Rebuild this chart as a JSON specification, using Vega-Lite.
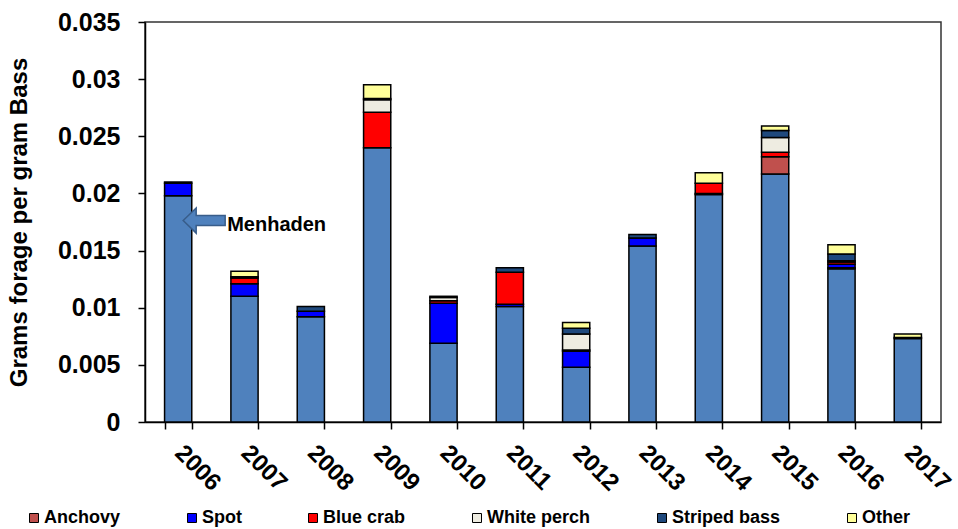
{
  "$schema": "https://vega.github.io/schema/vega-lite/v6.json",
  "autosize": {"type": "none"},
  "width": 796,
  "height": 400,
  "padding": {"left": 145, "top": 22, "right": 17, "bottom": 107},
  "background": "white",
  "config": {
    "font": "Liberation Sans",
    "view": {"stroke": "#333333", "strokeWidth": 1.5},
    "axis": {"domainColor": "#000000", "domainWidth": 1.5, "tickColor": "#000000", "tickWidth": 1.5, "grid": false, "labelColor": "#000000", "titleColor": "#000000", "labelFont": "Liberation Sans", "titleFont": "Liberation Sans", "labelFontWeight": "bold", "titleFontWeight": "bold"}
  },
  "datasets": {
    "forage": [
      {"year": "2006", "species": "Menhaden", "value": 0.0198},
      {"year": "2006", "species": "Spot", "value": 0.0011},
      {"year": "2006", "species": "Striped bass", "value": 0.0001},
      {"year": "2007", "species": "Menhaden", "value": 0.0110},
      {"year": "2007", "species": "Spot", "value": 0.0011},
      {"year": "2007", "species": "Blue crab", "value": 0.0005},
      {"year": "2007", "species": "Striped bass", "value": 0.0001},
      {"year": "2007", "species": "Other", "value": 0.0005},
      {"year": "2008", "species": "Menhaden", "value": 0.0092},
      {"year": "2008", "species": "Spot", "value": 0.0005},
      {"year": "2008", "species": "Striped bass", "value": 0.0004},
      {"year": "2009", "species": "Menhaden", "value": 0.0240},
      {"year": "2009", "species": "Blue crab", "value": 0.0031},
      {"year": "2009", "species": "White perch", "value": 0.0011},
      {"year": "2009", "species": "Striped bass", "value": 0.0001},
      {"year": "2009", "species": "Other", "value": 0.0012},
      {"year": "2010", "species": "Menhaden", "value": 0.0069},
      {"year": "2010", "species": "Spot", "value": 0.0035},
      {"year": "2010", "species": "Blue crab", "value": 0.0002},
      {"year": "2010", "species": "White perch", "value": 0.0003},
      {"year": "2010", "species": "Striped bass", "value": 0.0001},
      {"year": "2011", "species": "Menhaden", "value": 0.0101},
      {"year": "2011", "species": "Spot", "value": 0.0002},
      {"year": "2011", "species": "Blue crab", "value": 0.0028},
      {"year": "2011", "species": "Striped bass", "value": 0.0004},
      {"year": "2012", "species": "Menhaden", "value": 0.0048},
      {"year": "2012", "species": "Spot", "value": 0.0014},
      {"year": "2012", "species": "Blue crab", "value": 0.0001},
      {"year": "2012", "species": "White perch", "value": 0.0014},
      {"year": "2012", "species": "Striped bass", "value": 0.0005},
      {"year": "2012", "species": "Other", "value": 0.0005},
      {"year": "2013", "species": "Menhaden", "value": 0.0154},
      {"year": "2013", "species": "Spot", "value": 0.0007},
      {"year": "2013", "species": "Striped bass", "value": 0.0003},
      {"year": "2014", "species": "Menhaden", "value": 0.0199},
      {"year": "2014", "species": "Spot", "value": 0.0001},
      {"year": "2014", "species": "Blue crab", "value": 0.0009},
      {"year": "2014", "species": "Other", "value": 0.0009},
      {"year": "2015", "species": "Menhaden", "value": 0.0217},
      {"year": "2015", "species": "Anchovy", "value": 0.0015},
      {"year": "2015", "species": "Blue crab", "value": 0.0004},
      {"year": "2015", "species": "White perch", "value": 0.0013},
      {"year": "2015", "species": "Striped bass", "value": 0.0006},
      {"year": "2015", "species": "Other", "value": 0.0004},
      {"year": "2016", "species": "Menhaden", "value": 0.0134},
      {"year": "2016", "species": "Anchovy", "value": 0.0001},
      {"year": "2016", "species": "Spot", "value": 0.0003},
      {"year": "2016", "species": "Blue crab", "value": 0.0002},
      {"year": "2016", "species": "White perch", "value": 0.0001},
      {"year": "2016", "species": "Striped bass", "value": 0.0006},
      {"year": "2016", "species": "Other", "value": 0.0008},
      {"year": "2017", "species": "Menhaden", "value": 0.0073},
      {"year": "2017", "species": "Striped bass", "value": 0.0001},
      {"year": "2017", "species": "Other", "value": 0.0003}
    ],
    "note": [
      {"year": "2006", "value": 0.01763, "label": "Menhaden"}
    ]
  },
  "encoding": {
    "x": {
      "field": "year", "type": "ordinal",
      "scale": {"paddingInner": 0.59, "paddingOuter": 0.295},
      "axis": {"title": null, "labelAngle": 45, "labelAlign": "left", "labelBaseline": "middle", "labelFontSize": 24, "labelPadding": 20, "tickSize": 7, "tickBand": "extent"}
    }
  },
  "layer": [
    {
      "data": {"name": "forage"},
      "transform": [
        {"calculate": "indexof(['Menhaden','Anchovy','Spot','Blue crab','White perch','Striped bass','Other'], datum.species)", "as": "ord"}
      ],
      "mark": {"type": "bar", "stroke": "#000000", "strokeWidth": 1.5},
      "encoding": {
        "y": {
          "field": "value", "type": "quantitative", "stack": "zero",
          "scale": {"domain": [0, 0.035], "nice": false},
          "axis": {"title": "Grams forage per gram Bass", "values": [0, 0.005, 0.01, 0.015, 0.02, 0.025, 0.03, 0.035], "format": ".3~f", "labelFontSize": 25, "titleFontSize": 24, "labelPadding": 18, "tickSize": 7, "titlePadding": 26}
        },
        "color": {
          "field": "species", "type": "nominal",
          "scale": {
            "domain": ["Menhaden", "Anchovy", "Spot", "Blue crab", "White perch", "Striped bass", "Other"],
            "range": ["#4F81BD", "#C0504D", "#0000FF", "#FF0000", "#EEECE1", "#1F497D", "#FFFF99"]
          },
          "legend": {
            "title": null,
            "values": ["Anchovy", "Spot", "Blue crab", "White perch", "Striped bass", "Other"],
            "orient": "none",
            "direction": "horizontal",
            "legendX": -120,
            "legendY": 487,
            "symbolType": "square",
            "symbolSize": 81,
            "symbolStrokeColor": "#000000",
            "symbolStrokeWidth": 1,
            "symbolOffset": 0,
            "labelOffset": 1,
            "labelFont": "Liberation Sans",
            "labelFontWeight": "bold",
            "labelFontSize": 18,
            "labelColor": "#000000",
            "columnPadding": 62,
            "labelLimit": 200
          }
        },
        "order": {"field": "ord", "type": "quantitative", "sort": "ascending"}
      }
    },
    {
      "data": {"name": "note"},
      "mark": {
        "type": "point",
        "shape": "M -1 0 L -0.38 -0.6 L -0.38 -0.24 L 1 -0.24 L 1 0.24 L -0.38 0.24 L -0.38 0.6 Z",
        "size": 1764,
        "filled": true,
        "fill": "#4F81BD",
        "stroke": "#385D8A",
        "strokeWidth": 1.5,
        "opacity": 1,
        "xOffset": 26
      },
      "encoding": {
        "y": {"field": "value", "type": "quantitative"}
      }
    },
    {
      "data": {"name": "note"},
      "mark": {"type": "text", "align": "left", "baseline": "middle", "dx": 49, "dy": 4, "font": "Liberation Sans", "fontWeight": "bold", "fontSize": 20, "color": "#000000"},
      "encoding": {
        "y": {"field": "value", "type": "quantitative"},
        "text": {"field": "label"}
      }
    }
  ]
}
